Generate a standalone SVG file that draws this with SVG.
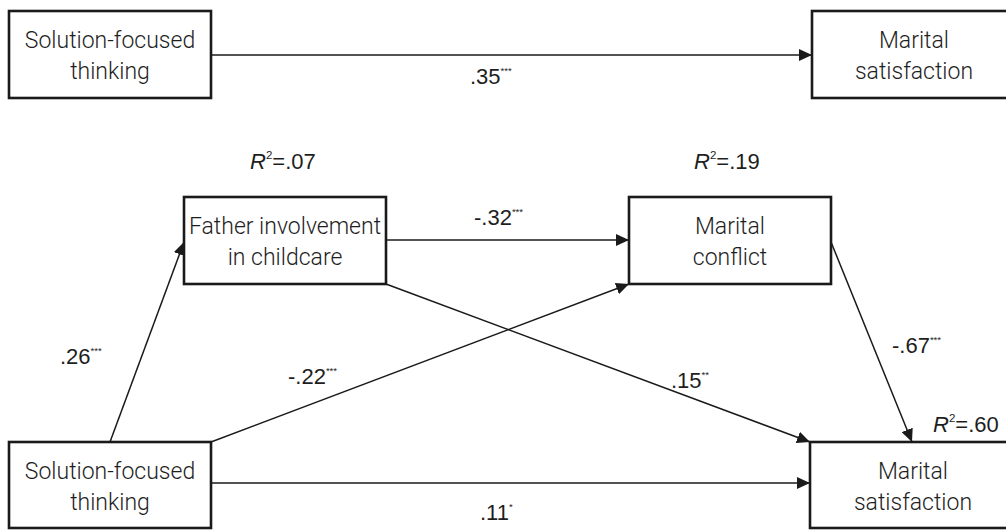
<svg xmlns="http://www.w3.org/2000/svg" width="1006" height="530" viewBox="0 0 1006 530">
  <style>
    .box { fill: #ffffff; stroke: #1a1a1a; stroke-width: 2.6; }
    .lbl { font-family: Roboto, "Liberation Sans", sans-serif; font-weight: 300; font-size: 23px; fill: #1e1e1e; text-anchor: middle; }
    .num { font-family: "Liberation Sans", Arial, sans-serif; font-size: 22px; fill: #1e1e1e; }
    .sup { font-size: 9.5px; }
    .sq { font-size: 11.5px; font-style: normal; }
    .it { font-style: italic; }
    .edge { stroke: #1a1a1a; stroke-width: 1.5; fill: none; marker-end: url(#arrow); }
  </style>
  <defs>
    <marker id="arrow" markerUnits="userSpaceOnUse" markerWidth="14" markerHeight="12" refX="13" refY="6" orient="auto">
      <path d="M0,0 L13,6 L0,12 Z" fill="#1a1a1a"/>
    </marker>
  </defs>
  <rect width="1006" height="530" fill="#ffffff"/>

  <!-- connectors -->
  <g id="connectors">
    <line class="edge" x1="211" y1="55" x2="812" y2="55"/>
    <line class="edge" x1="110" y1="442" x2="184" y2="242"/>
    <line class="edge" x1="211" y1="442" x2="629" y2="284"/>
    <line class="edge" x1="386" y1="284" x2="810" y2="442"/>
    <line class="edge" x1="831" y1="242" x2="912" y2="442"/>
    <line class="edge" x1="211" y1="483" x2="810" y2="483"/>
    <line class="edge" x1="386" y1="240" x2="629" y2="240"/>
  </g>

  <!-- path coefficients -->
  <g id="coefficients" class="num">
    <text x="470" y="84">.35<tspan class="sup" dy="-10">***</tspan></text>
    <text x="60" y="364">.26<tspan class="sup" dy="-10">***</tspan></text>
    <text x="288" y="384">-.22<tspan class="sup" dy="-10">***</tspan></text>
    <text x="474" y="225">-.32<tspan class="sup" dy="-10">***</tspan></text>
    <text x="671" y="388">.15<tspan class="sup" dy="-10">**</tspan></text>
    <text x="892" y="353">-.67<tspan class="sup" dy="-10">***</tspan></text>
    <text x="480" y="520">.11<tspan class="sup" dy="-10">*</tspan></text>
  </g>

  <!-- explained variance -->
  <g id="r-squared" class="num">
    <text x="250" y="169"><tspan class="it">R</tspan><tspan class="sq" dy="-10">2</tspan><tspan dy="10">=.07</tspan></text>
    <text x="694" y="169"><tspan class="it">R</tspan><tspan class="sq" dy="-10">2</tspan><tspan dy="10">=.19</tspan></text>
    <text x="933" y="432"><tspan class="it">R</tspan><tspan class="sq" dy="-10">2</tspan><tspan dy="10">=.60</tspan></text>
  </g>

  <!-- model 1 -->
  <g id="sft-total">
    <rect class="box" x="9" y="11" width="202" height="87"/>
    <text class="lbl" x="110" y="48">Solution-focused</text>
    <text class="lbl" x="110" y="79">thinking</text>
  </g>
  <g id="ms-total">
    <rect class="box" x="812" y="11" width="204" height="87"/>
    <text class="lbl" x="914" y="48">Marital</text>
    <text class="lbl" x="914" y="79">satisfaction</text>
  </g>

  <!-- model 2 -->
  <g id="father">
    <rect class="box" x="184" y="197" width="202" height="87"/>
    <text class="lbl" x="285" y="234">Father involvement</text>
    <text class="lbl" x="285" y="265">in childcare</text>
  </g>
  <g id="conflict">
    <rect class="box" x="629" y="197" width="202" height="87"/>
    <text class="lbl" x="730" y="234">Marital</text>
    <text class="lbl" x="730" y="265">conflict</text>
  </g>
  <g id="sft">
    <rect class="box" x="9" y="442" width="202" height="86"/>
    <text class="lbl" x="110" y="479">Solution-focused</text>
    <text class="lbl" x="110" y="510">thinking</text>
  </g>
  <g id="ms">
    <rect class="box" x="810" y="442" width="206" height="86"/>
    <text class="lbl" x="913" y="479">Marital</text>
    <text class="lbl" x="913" y="510">satisfaction</text>
  </g>
</svg>
